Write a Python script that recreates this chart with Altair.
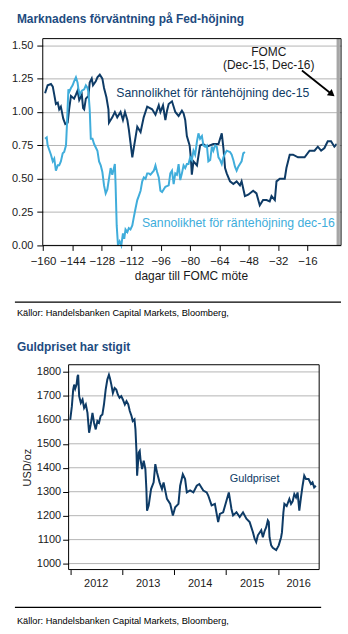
import altair as alt
import pandas as pd

FONT = "Liberation Sans"
DARK = "#0e3b66"
LIGHT = "#40addb"
TITLE_C = "#1d4b80"
GRID = "#b4b4b4"
TXT = "#1a1a1a"

# ---------------- chart 1 data ----------------
dec15_day = [-158.9, -157.5, -155.7, -154.7, -153.9, -153.0, -152.0, -151.2, -150.3, -149.0,
             -147.9, -146.6, -145.8, -144.8, -143.1, -142.1, -141.2, -140.3, -138.9, -138.2,
             -137.6, -136.7, -135.3, -134.6, -133.5, -132.8, -131.3, -130.4, -129.1, -127.7,
             -126.8, -125.5, -124.4, -124.1, -122.3, -120.9, -119.6, -117.8, -116.5, -115.4,
             -114.1, -113.3, -112.4, -111.4, -110.6, -108.7, -106.9, -105.2, -103.3, -100.6,
             -98.8, -97.0, -96.1, -94.7, -93.4, -92.5, -91.6, -89.8, -88.0, -86.2,
             -84.4, -83.5, -82.6, -81.7, -80.2, -79.5, -79.0, -78.1, -76.2, -74.5,
             -72.7, -70.8, -67.3, -64.5, -62.7, -61.8, -60.9, -60.0, -58.2, -56.4,
             -54.6, -52.8, -51.9, -50.1, -48.3, -45.6, -43.8, -42.0, -40.2, -38.3,
             -36.6, -35.6, -33.8, -32.9, -31.1, -28.4, -27.5, -25.7, -23.9, -21.2,
             -17.6, -14.9, -12.2, -10.4, -8.6, -6.8, -5.0, -3.2, -1.4, -0.1]
dec15_prob = [1.14, 1.20, 1.21, 1.19, 1.13, 1.06, 1.07, 1.02, 1.04, 0.95,
              0.91, 0.92, 1.02, 1.12, 1.10, 1.13, 1.16, 1.09, 1.13, 1.03,
              1.02, 1.10, 1.12, 1.22, 1.25, 1.20, 1.23, 1.26, 1.28, 1.25,
              1.18, 1.11, 1.02, 0.92, 0.96, 1.00, 0.96, 1.00, 0.94, 1.00,
              0.94, 0.87, 0.77, 0.66, 0.73, 0.89, 0.85, 0.96, 1.04, 1.02,
              0.98, 1.05, 1.00, 1.05, 0.94, 1.01, 1.06, 1.08, 1.00, 0.97,
              1.01, 0.99, 0.94, 0.82, 0.75, 0.65, 0.53, 0.63, 0.60, 0.75,
              0.76, 0.74, 0.76, 0.76, 0.84, 0.73, 0.58, 0.54, 0.48, 0.46,
              0.48, 0.45, 0.48, 0.37, 0.38, 0.41, 0.39, 0.30, 0.34, 0.34,
              0.33, 0.37, 0.34, 0.48, 0.50, 0.50, 0.58, 0.68, 0.68, 0.66,
              0.66, 0.71, 0.71, 0.74, 0.71, 0.73, 0.78, 0.78, 0.74, 0.76]

dec16_day = [-158.9, -158.0, -157.5, -155.7, -154.7, -153.9, -153.0, -152.0, -151.2, -150.3,
             -149.3, -148.5, -147.5, -147.0, -146.5, -146.2, -145.8, -144.8, -143.9, -143.1,
             -142.1, -141.2, -140.7, -140.0, -138.9, -137.6, -136.7, -135.8, -135.3, -134.6,
             -134.0, -133.1, -132.2, -130.4, -129.5, -128.6, -127.7, -126.8, -125.9, -125.0,
             -124.1, -123.2, -122.3, -121.4, -120.9, -120.5, -119.9, -119.2, -118.3, -117.4,
             -116.5, -115.8, -115.1, -114.1, -113.3, -112.4, -111.4, -110.6, -109.6, -108.7,
             -107.9, -106.9, -106.0, -105.1, -104.2, -103.3, -102.4, -101.5, -99.7, -98.8,
             -97.9, -97.0, -96.1, -95.2, -93.4, -91.6, -90.7, -89.8, -88.9, -88.0,
             -87.1, -86.2, -85.3, -84.4, -83.5, -82.6, -81.7, -80.8, -79.9, -79.0,
             -78.1, -77.2, -76.2, -75.4, -74.5, -73.5, -72.7, -71.7, -70.8, -70.0,
             -69.0, -68.1, -67.3, -66.3, -65.4, -64.5, -63.6, -62.7, -61.8, -60.9,
             -60.0, -58.2, -57.3, -56.4, -55.5, -54.6, -53.7, -52.8, -51.9, -51.0, -50.1]
dec16_prob = [0.80, 0.81, 0.75, 0.68, 0.63, 0.65, 0.56, 0.60, 0.60, 0.63,
              0.69, 0.70, 0.75, 0.90, 1.07, 1.17, 1.15, 1.18, 1.20, 1.23,
              1.26, 1.22, 1.17, 1.13, 1.16, 1.17, 1.20, 1.18, 1.15, 1.02,
              0.80, 0.80, 0.76, 0.71, 0.63, 0.60, 0.55, 0.45, 0.39, 0.42,
              0.50, 0.58, 0.53, 0.58, 0.61, 0.45, 0.15, 0.00, 0.03, 0.00,
              0.09, 0.05, 0.12, 0.10, 0.13, 0.12, 0.15, 0.21, 0.28, 0.34,
              0.37, 0.41, 0.48, 0.51, 0.50, 0.54, 0.54, 0.53, 0.56, 0.60,
              0.55, 0.51, 0.41, 0.40, 0.44, 0.45, 0.54, 0.56, 0.46, 0.54,
              0.53, 0.61, 0.49, 0.54, 0.60, 0.58, 0.61, 0.61, 0.66, 0.64,
              0.71, 0.68, 0.78, 0.84, 0.80, 0.82, 0.75, 0.74, 0.75, 0.63,
              0.64, 0.74, 0.71, 0.75, 0.74, 0.66, 0.64, 0.61, 0.66, 0.69,
              0.71, 0.70, 0.68, 0.64, 0.59, 0.56, 0.59, 0.61, 0.63, 0.69, 0.70]

fed_y_ticks = [0.0, 0.25, 0.5, 0.75, 1.0, 1.25, 1.5]
fed_x_ticks = [-160, -144, -128, -112, -96, -80, -64, -48, -32, -16]
fomc_band = [-0.2, 1.6]

# ---------------- chart 2 data ----------------
gold_year = [2012.000, 2012.032, 2012.057, 2012.076, 2012.096, 2012.122, 2012.141, 2012.153, 2012.172, 2012.204,
             2012.237, 2012.267, 2012.300, 2012.332, 2012.363, 2012.395, 2012.428, 2012.458, 2012.491, 2012.523,
             2012.554, 2012.586, 2012.619, 2012.649, 2012.682, 2012.714, 2012.745, 2012.764, 2012.791, 2012.821,
             2012.854, 2012.886, 2012.917, 2012.949, 2012.982, 2013.012, 2013.051, 2013.083, 2013.116, 2013.146,
             2013.179, 2013.203, 2013.236, 2013.255, 2013.274, 2013.287, 2013.318, 2013.337, 2013.351, 2013.383,
             2013.414, 2013.446, 2013.465, 2013.478, 2013.509, 2013.555, 2013.605, 2013.637, 2013.670, 2013.719,
             2013.765, 2013.796, 2013.861, 2013.924, 2013.975, 2014.019, 2014.082, 2014.115, 2014.166, 2014.210,
             2014.243, 2014.306, 2014.369, 2014.434, 2014.483, 2014.560, 2014.625, 2014.655, 2014.720, 2014.783,
             2014.846, 2014.879, 2014.942, 2015.007, 2015.051, 2015.102, 2015.133, 2015.198, 2015.261, 2015.324,
             2015.389, 2015.452, 2015.515, 2015.547, 2015.578, 2015.610, 2015.675, 2015.706, 2015.738, 2015.771,
             2015.801, 2015.820, 2015.834, 2015.866, 2015.897, 2015.962, 2016.011, 2016.057, 2016.073, 2016.088,
             2016.101, 2016.120, 2016.164, 2016.216, 2016.248, 2016.279, 2016.311, 2016.344, 2016.374, 2016.407,
             2016.439, 2016.470, 2016.502, 2016.535, 2016.585, 2016.630, 2016.661, 2016.693, 2016.725]
gold_price = [1600, 1657, 1726, 1747, 1730, 1747, 1782, 1788, 1699, 1671,
              1685, 1650, 1664, 1629, 1546, 1581, 1629, 1588, 1560, 1595,
              1588, 1616, 1622, 1664, 1726, 1768, 1788, 1774, 1747, 1712,
              1733, 1726, 1705, 1692, 1699, 1685, 1664, 1678, 1665, 1637,
              1616, 1595, 1602, 1560, 1470, 1367, 1463, 1470, 1436, 1394,
              1429, 1394, 1311, 1221, 1242, 1311, 1339, 1415, 1380, 1339,
              1311, 1339, 1270, 1249, 1201, 1235, 1249, 1325, 1373, 1353,
              1297, 1305, 1297, 1325, 1332, 1305, 1297, 1284, 1243, 1249,
              1173, 1207, 1214, 1263, 1297, 1228, 1201, 1214, 1194, 1214,
              1187, 1173, 1131, 1104, 1090, 1118, 1139, 1110, 1135, 1152,
              1180, 1173, 1110, 1076, 1066, 1056, 1076, 1110, 1130, 1175,
              1214, 1249, 1240, 1270, 1249, 1260, 1290, 1276, 1297, 1221,
              1276, 1325, 1367, 1353, 1353, 1332, 1339, 1318, 1325]
gold_y_ticks = [1000, 1100, 1200, 1300, 1400, 1500, 1600, 1700, 1800]
gold_years = [2012, 2013, 2014, 2015, 2016]
gold_x_domain = [2011.969, 2016.789]

SOURCE = "Källor: Handelsbanken Capital Markets, Bloomberg,"


def text(t, x, y, size, color=TXT, weight="normal", align="left"):
    return alt.Chart(pd.DataFrame({"t": [t]})).mark_text(
        align=align, baseline="alphabetic", font=FONT, fontSize=size,
        fontWeight=weight, color=color
    ).encode(x=alt.value(x), y=alt.value(y), text="t:N")


def hrule(x1, x2, y, color="black", width=1.0, opacity=1.0):
    return alt.Chart(pd.DataFrame({"a": [0]})).mark_rule(
        color=color, strokeWidth=width, strokeOpacity=opacity
    ).encode(x=alt.value(x1), x2=alt.value(x2), y=alt.value(y))


# ---------------- chart 1 ----------------
W1, H1 = 300, 208
xs1 = alt.Scale(domain=[-160.16, 2.24], nice=False, zero=False)
ys1 = alt.Scale(domain=[0, 1.55], nice=False, zero=False)

xax1 = alt.Axis(values=fed_x_ticks, grid=False, domain=False, tickSize=5, tickColor="black",
                labelPadding=5, labelFont=FONT, labelFontSize=11.5, labelColor=TXT,
                labelFlush=False, labelOverlap=False,
                title="dagar till FOMC möte", titleFont=FONT, titleFontSize=12,
                titleFontWeight="normal", titleColor=TXT, titleX=149, titleY=34,
                titleBaseline="alphabetic")
yax1 = alt.Axis(values=fed_y_ticks, format=".2f", grid=True, gridColor=GRID, gridWidth=1,
                domain=False, tickSize=6, tickColor="black", labelPadding=4,
                labelFont=FONT, labelFontSize=11, labelColor=TXT,
                labelFlush=False, labelOverlap=False, title=None)

df15 = pd.DataFrame({"day": dec15_day, "p": dec15_prob})
df16 = pd.DataFrame({"day": dec16_day, "p": dec16_prob})

line15 = alt.Chart(df15).mark_line(color=DARK, strokeWidth=2).encode(
    x=alt.X("day:Q", scale=xs1, axis=xax1),
    y=alt.Y("p:Q", scale=ys1, axis=yax1),
)
line16 = alt.Chart(df16).mark_line(color=LIGHT, strokeWidth=2).encode(
    x=alt.X("day:Q", scale=xs1, axis=xax1),
    y=alt.Y("p:Q", scale=ys1, axis=yax1),
)
band = alt.Chart(pd.DataFrame({"day": [fomc_band[0]], "b": [fomc_band[1]]})).mark_rect(
    color="#a6a6a6").encode(
    x=alt.X("day:Q", scale=xs1, axis=xax1), x2="b:Q",
    y=alt.value(0), y2=alt.value(H1))
frame1 = alt.Chart(pd.DataFrame({"a": [0]})).mark_rect(
    fillOpacity=0, stroke="black", strokeWidth=1).encode(
    x=alt.value(0), x2=alt.value(W1), y=alt.value(0), y2=alt.value(H1))

arrow_line = alt.Chart(pd.DataFrame({"a": [0]})).mark_rule(
    color="black", strokeWidth=1.8).encode(
    x=alt.value(260.7), y=alt.value(32), x2=alt.value(289.5), y2=alt.value(54.9))
arrow_head = alt.Chart(pd.DataFrame({"a": [0]})).mark_point(
    shape="triangle-right", angle=38.5, size=60, filled=True, color="black", opacity=1).encode(
    x=alt.value(290.8), y=alt.value(55.9))

top = alt.layer(
    line15, band, line16, frame1,
    text("Marknadens förväntning på Fed-höjning", -26, -15.7, 12, TITLE_C, "bold"),
    text("FOMC", 227.3, 17.3, 12, TXT, align="center"),
    text("(Dec-15, Dec-16)", 227.3, 31, 12, TXT, align="center"),
    arrow_line, arrow_head,
    text("Sannolikhet för räntehöjning dec-15", 74, 58.8, 12.3, DARK),
    text("Sannolikhet för räntehöjning dec-16", 99.7, 189.5, 12.3, LIGHT),
    hrule(-28, 300, 265, "black", 1.2),
    text(SOURCE, -26, 279, 9.3, "#000000"),
    hrule(-42, 306, -36, "white", 1, 0),
    hrule(-42, 306, 292, "white", 1, 0),
).properties(width=W1, height=H1)

# ---------------- chart 2 ----------------
W2, H2 = 278, 206
XOFF = 26
xs2 = alt.Scale(domain=gold_x_domain, range=[XOFF, W2], nice=False, zero=False)
ys2 = alt.Scale(domain=[975, 1830], nice=False, zero=False)

xax2 = alt.Axis(values=gold_years, labels=False, grid=False, domain=False, tickSize=5,
                tickColor="black", title=None)
yax2 = alt.Axis(values=gold_y_ticks, format="d", grid=False, domain=False, offset=-XOFF, tickSize=6,
                tickColor="black", labelPadding=2, labelFont=FONT, labelFontSize=11,
                labelColor=TXT, labelFlush=False, labelOverlap=False,
                title="USD/oz", titleFont=FONT, titleFontSize=11, titleFontWeight="normal",
                titleColor=TXT, titleX=-38.7, titleY=H2 / 2, titleBaseline="alphabetic")

dfg = pd.DataFrame({"yr": gold_year, "price": gold_price})
grid2 = alt.Chart(pd.DataFrame({"price": gold_y_ticks, "yr": gold_x_domain[0], "b": gold_x_domain[1]})).mark_rule(
    color=GRID, strokeWidth=1).encode(
    y=alt.Y("price:Q", scale=ys2, axis=yax2),
    x=alt.X("yr:Q", scale=xs2, axis=xax2), x2="b:Q")
gold = alt.Chart(dfg).mark_line(color=DARK, strokeWidth=2).encode(
    x=alt.X("yr:Q", scale=xs2, axis=xax2),
    y=alt.Y("price:Q", scale=ys2, axis=yax2),
)
frame2 = alt.Chart(pd.DataFrame({"a": [0]})).mark_rect(
    fillOpacity=0, stroke="black", strokeWidth=1).encode(
    x=alt.value(XOFF), x2=alt.value(W2), y=alt.value(0), y2=alt.value(H2))

centers = []
for y in gold_years:
    end = min(y + 1, gold_x_domain[1])
    centers.append((y + end) / 2)
year_labels = alt.Chart(pd.DataFrame({"yr": centers, "lab": [str(y) for y in gold_years]})).mark_text(
    align="center", baseline="alphabetic", font=FONT, fontSize=11, color=TXT).encode(
    x=alt.X("yr:Q", scale=xs2, axis=xax2), y=alt.value(223.3), text="lab:N")

bottom = alt.layer(
    grid2, gold, frame2, year_labels,
    text("Guldpriset har stigit", -26, -14, 12, TITLE_C, "bold"),
    text("Guldpriset", 188, 117.9, 11, DARK),
    hrule(-28, 280, 244, "black", 1.2),
    text(SOURCE, -26, 260.4, 9.3, "#000000"),
    hrule(-42, 306, -34, "white", 1, 0),
    hrule(-42, 306, 272, "white", 1, 0),
).properties(width=W2, height=H2)

chart = alt.vconcat(top, bottom, spacing=0).properties(
    padding={"left": 0, "top": 0, "right": 0, "bottom": 0},
    background="white",
).configure_view(stroke="transparent")

chart.save("out.html", embed_options={"renderer": "svg", "actions": False})
